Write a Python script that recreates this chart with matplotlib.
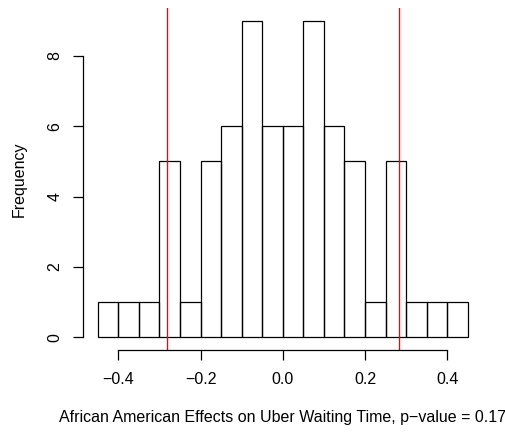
import matplotlib
matplotlib.use('Agg')
import matplotlib.pyplot as plt
import numpy as np

plt.rcParams['font.family'] = ['Liberation Sans', 'DejaVu Sans']

# histogram of placebo effects, bins of width 0.05
bin_edges = np.round(np.arange(-0.45, 0.4501, 0.05), 2)
counts = [1, 1, 1, 5, 1, 5, 6, 9, 6, 6, 9, 6, 5, 1, 5, 1, 1, 1]
# observed effect cutoffs
cutoffs = [-0.282, 0.283]
p_value = 0.17

fig = plt.figure(figsize=(5.06, 4.34), dpi=100)
ax = fig.add_axes([0.1638, 0.1935, 0.790, 0.788])

ax.bar(bin_edges[:-1], counts, width=np.diff(bin_edges), align='edge',
       fill=False, edgecolor='black', linewidth=0.9)
for c in cutoffs:
    ax.axvline(c, color='#ff0000', linewidth=1.0)

ax.set_xlim(-0.486, 0.486)
ax.set_ylim(-0.36, 9.36)

ax.set_xticks([-0.4, -0.2, 0.0, 0.2, 0.4])
ax.set_xticklabels(['\u22120.4', '\u22120.2', '0.0', '0.2', '0.4'])
ax.set_yticks([0, 2, 4, 6, 8])
for lab in ax.get_yticklabels():
    lab.set_rotation(90)
    lab.set_va('center')

for s in ['top', 'right']:
    ax.spines[s].set_visible(False)
ax.spines['bottom'].set_bounds(-0.4, 0.4)
ax.spines['left'].set_bounds(0, 8)
for s in ['bottom', 'left']:
    ax.spines[s].set_linewidth(0.9)

ax.tick_params(axis='x', length=7, width=0.9, labelsize=11.5, pad=8.5)
ax.tick_params(axis='y', length=7, width=0.9, labelsize=11.5, pad=7.5)

ax.set_xlabel('African American Effects on Uber Waiting Time, p\u2212value = %.2f' % p_value,
              fontsize=11.5, labelpad=17)
ax.set_ylabel('Frequency', fontsize=11.5, labelpad=15)

fig.savefig('out.png', dpi=100)
